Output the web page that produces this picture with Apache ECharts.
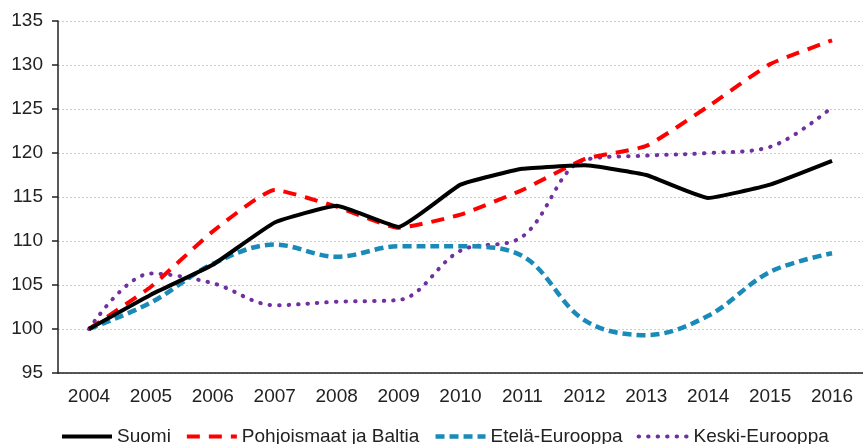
<!DOCTYPE html>
<html>
<head>
<meta charset="utf-8">
<script src="https://cdn.jsdelivr.net/npm/echarts@6/dist/echarts.min.js"></script>
<style>
  html, body { margin: 0; padding: 0; background: #fff; }
  #chart { width: 863px; height: 444px; }
</style>
</head>
<body>
<div id="chart"></div>
<script>
const years = ['2004', '2005', '2006', '2007', '2008', '2009', '2010', '2011', '2012', '2013', '2014', '2015', '2016'];
const suomi = [100, 103.9, 107.3, 112.1, 114.0, 111.6, 116.4, 118.2, 118.6, 117.5, 114.9, 116.4, 119.1];
const pohjoismaat = [100, 104.8, 111.1, 115.8, 113.9, 111.5, 113.0, 115.8, 119.3, 120.8, 125.3, 130.1, 132.8];
const etela = [100, 103.0, 107.4, 109.6, 108.2, 109.4, 109.4, 108.3, 101.0, 99.3, 101.5, 106.5, 108.6];
const keski = [100, 106.3, 105.2, 102.7, 103.1, 103.3, 108.9, 110.5, 119.2, 119.7, 120.0, 120.7, 125.2];

const chart = echarts.init(document.getElementById('chart'), null, { renderer: 'canvas' });

const font = 'Liberation Sans, Arial, sans-serif';

var option = {
  animation: false,
  grid: {
    left: 58,
    right: -4,
    top: 21,
    bottom: 71
  },
  legend: {
    left: 55,
    top: 422,
    itemWidth: 50,
    itemHeight: 14,
    itemGap: 14,
    itemStyle: { opacity: 0, borderWidth: 0 },
    lineStyle: { width: 'inherit' },
    textStyle: { fontSize: 19, fontFamily: font, color: '#222' },
    data: ['Suomi', 'Pohjoismaat ja Baltia', 'Etelä-Eurooppa', 'Keski-Eurooppa']
  },
  xAxis: {
    type: 'category',
    data: years,
    boundaryGap: true,
    axisLine: { lineStyle: { color: '#222', width: 1.5 } },
    axisTick: { length: 6, lineStyle: { color: '#222', width: 1.5 } },
    axisLabel: { fontSize: 19, fontFamily: font, color: '#222', margin: 14 }
  },
  yAxis: {
    type: 'value',
    min: 95,
    max: 135,
    interval: 5,
    axisLine: { show: true, lineStyle: { color: '#222', width: 1.5 } },
    axisTick: { show: true, length: 6, lineStyle: { color: '#222', width: 1.5 } },
    axisLabel: { fontSize: 19, fontFamily: font, color: '#222', margin: 15 },
    splitLine: { lineStyle: { color: '#cccccc', type: [2, 2], width: 1 } }
  },
  series: [
    {
      name: 'Suomi',
      type: 'line',
      data: suomi,
      symbol: 'none',
      smooth: 0.12,
      z: 5,
      lineStyle: { color: '#000', width: 4 },
      itemStyle: { color: '#000' }
    },
    {
      name: 'Pohjoismaat ja Baltia',
      type: 'line',
      data: pohjoismaat,
      symbol: 'none',
      smooth: 0.15,
      z: 4,
      lineStyle: { color: '#ff0000', width: 4, type: [13, 9] },
      itemStyle: { color: '#ff0000' }
    },
    {
      name: 'Etelä-Eurooppa',
      type: 'line',
      data: etela,
      symbol: 'none',
      smooth: 0.35,
      z: 3,
      lineStyle: { color: '#1a8bb8', width: 4.5, type: [9, 5] },
      itemStyle: { color: '#1a8bb8' }
    },
    {
      name: 'Keski-Eurooppa',
      type: 'line',
      data: keski,
      symbol: 'none',
      smooth: 0.35,
      z: 2,
      lineStyle: { color: '#7030a0', width: 4, type: [0.5, 9], cap: 'round' },
      itemStyle: { color: '#7030a0' }
    }
  ]
};

chart.setOption(option);
</script>
</body>
</html>
